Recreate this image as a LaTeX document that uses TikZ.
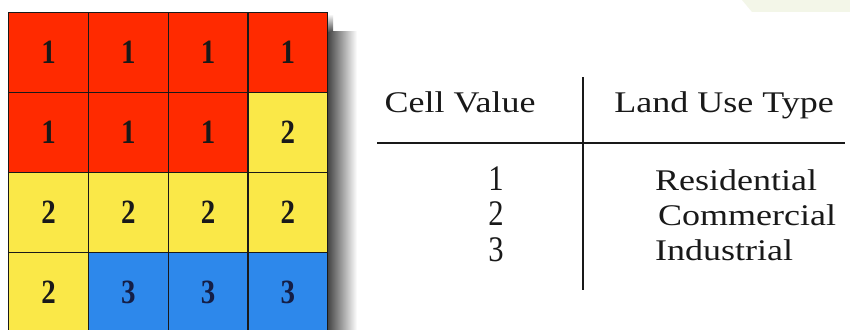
\documentclass[tikz,border=0pt]{standalone}
\usepackage{fontspec}
\setmainfont{Liberation Serif}
\newfontfamily\widefont[FakeStretch=1.2]{Liberation Serif}
\newfontfamily\cellfont[FakeStretch=0.85]{Liberation Serif}
\newfontfamily\numfont[FakeStretch=0.85]{Liberation Serif}
\definecolor{cred}{RGB}{255,42,0}
\definecolor{cyel}{RGB}{250,232,72}
\definecolor{cblu}{RGB}{45,136,235}
\definecolor{ink}{RGB}{25,25,25}
\definecolor{navy}{RGB}{20,30,70}
\definecolor{pale}{RGB}{243,246,232}
\tikzset{
  cellbox/.style={draw=ink, line width=1.3pt, minimum width=79.75pt, minimum height=80pt, inner sep=0pt, anchor=north west, font=\cellfont\bfseries\fontsize{34}{34}\selectfont, text=ink},
  rcell/.style={cellbox, fill=cred},
  ycell/.style={cellbox, fill=cyel},
  bcell/.style={cellbox, fill=cblu, text=navy},
  tabtext/.style={font=\widefont\fontsize{30}{35}\selectfont, text=ink, inner sep=0pt, anchor=base},
  numtext/.style={font=\numfont\fontsize{36}{36}\selectfont, text=ink, inner sep=0pt, anchor=base},
  rule/.style={draw=ink, line width=1.6pt}
}
\begin{document}
\begin{tikzpicture}[x=1pt,y=-1pt]
\useasboundingbox (0,0) rectangle (850,329);
\fill[white] (0,0) rectangle (850,329);
\fill[pale] (742,0) -- (850,0) -- (850,12) -- (752,12) -- cycle;
% shadow
\shade[left color=black!75, right color=white] (327,32) rectangle (357,335);
\shade[top color=white, bottom color=black!70] (327,14) rectangle (333,32);
% grid
\node[rcell] (c11) at (8,12) {1};
\node[rcell] (c12) at (87.75,12) {1};
\node[rcell] (c13) at (167.5,12) {1};
\node[rcell] (c14) at (247.25,12) {1};
\node[rcell] (c21) at (8,92) {1};
\node[rcell] (c22) at (87.75,92) {1};
\node[rcell] (c23) at (167.5,92) {1};
\node[ycell] (c24) at (247.25,92) {2};
\node[ycell] (c31) at (8,172) {2};
\node[ycell] (c32) at (87.75,172) {2};
\node[ycell] (c33) at (167.5,172) {2};
\node[ycell] (c34) at (247.25,172) {2};
\node[ycell] (c41) at (8,252) {2};
\node[bcell] (c42) at (87.75,252) {3};
\node[bcell] (c43) at (167.5,252) {3};
\node[bcell] (c44) at (247.25,252) {3};
% table
\coordinate (vt) at (583,77);
\coordinate (vb) at (583,290);
\coordinate (hl) at (377,143);
\coordinate (hr) at (845,143);
\draw[rule] (vt) -- (vb);
\draw[rule] (hl) -- (hr);
\node[tabtext] (h1) at (460,112) {Cell Value};
\node[tabtext] (h2) at (724,112) {Land Use Type};
\node[numtext] (v1) at (496,190) {1};
\node[numtext] (v2) at (496,225) {2};
\node[numtext] (v3) at (496,261) {3};
\node[tabtext, anchor=base west] (t1) at (655,190) {Residential};
\node[tabtext, anchor=base west] (t2) at (658,225) {Commercial};
\node[tabtext, anchor=base west] (t3) at (655,260) {Industrial};
\end{tikzpicture}
\end{document}
